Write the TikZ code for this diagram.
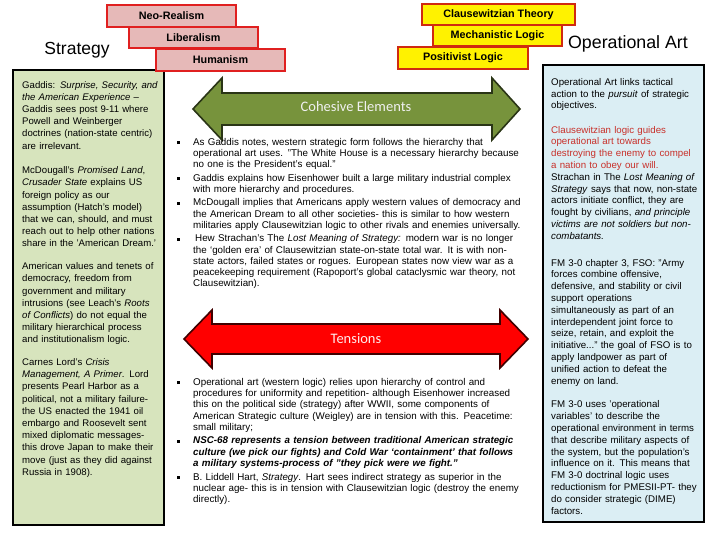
\documentclass[tikz,border=0pt]{standalone}
\usepackage{fontspec}
\setmainfont{Liberation Sans}
\newfontfamily\calib{Carlito}
\definecolor{leftfill}{HTML}{D7E4BD}
\definecolor{rightfill}{HTML}{DBEEF4}
\definecolor{pinkfill}{HTML}{E6B9B8}
\definecolor{boxred}{HTML}{E02020}
\definecolor{yelborder}{HTML}{D02A10}
\definecolor{arrowgreen}{HTML}{77933C}
\definecolor{arrowgreenline}{HTML}{2A3516}
\definecolor{arrowredline}{HTML}{400000}
\definecolor{redtxt}{HTML}{C8302A}
\newcommand{\bul}{\par\noindent\llap{\makebox[16pt][l]{\rule[1.3pt]{3pt}{3pt}}}\ignorespaces}
\tikzset{
  pinkbox/.style={draw=boxred,line width=1.4pt,fill=pinkfill},
  yelbox/.style={draw=yelborder,line width=1.4pt,fill=yellow},
  boxlabel/.style={font=\fontsize{10.8}{12}\selectfont\bfseries},
  bigbox/.style={draw=black,line width=1.5pt},
  txtblock/.style={anchor=north west,inner sep=0pt,text width=#1,align=left},
  arrowshape/.style={line width=1.6pt,line join=miter}
}
\begin{document}
\begin{tikzpicture}[x=1pt,y=-1pt]
\useasboundingbox (0,0) rectangle (720,540);
% big boxes
\path[bigbox,fill=leftfill] (13,70) rectangle (164,525);
\path[bigbox,fill=rightfill] (543,65) rectangle (704,522);
% pink boxes
\path[pinkbox] (107,5) rectangle (236,27);
\node[boxlabel] (neol) at (171.5,16) {Neo-Realism};
\path[pinkbox] (129,27) rectangle (258,48);
\node[boxlabel] (libl) at (193.5,37.5) {Liberalism};
\path[pinkbox] (156,49) rectangle (285,71);
\node[boxlabel] (huml) at (220.5,60) {Humanism};
% yellow boxes
\path[yelbox] (422,4) rectangle (575,25);
\node[boxlabel] (clal) at (498.5,14.5) {Clausewitzian Theory};
\path[yelbox] (433,25) rectangle (562,46);
\node[boxlabel] (mecl) at (497.5,35.5) {Mechanistic Logic};
\path[yelbox] (398,47) rectangle (528,69);
\node[boxlabel] (posl) at (463,58) {Positivist Logic};
% titles
\node[font=\fontsize{17.5}{20}\selectfont] (strat) at (77,50) {Strategy};
\node[font=\fontsize{17.8}{20}\selectfont] (opart) at (628,44) {Operational Art};
% green arrow
\draw[arrowshape,draw=arrowgreenline,fill=arrowgreen]
  (193,109) -- (222,78) -- (222,93) -- (492,93) -- (492,78) -- (520,109)
  -- (492,140) -- (492,125) -- (222,125) -- (222,140) -- cycle;
\node[font=\calib\fontsize{14.5}{16}\selectfont,text=white!94!black] (coh) at (356,107) {Cohesive Elements};
% red arrow
\draw[arrowshape,draw=arrowredline,fill=red]
  (184,339) -- (212,310) -- (212,324) -- (500,324) -- (500,310) -- (528,339)
  -- (500,368) -- (500,354) -- (212,354) -- (212,368) -- cycle;
\node[font=\calib\fontsize{14.5}{16}\selectfont,text=white!92!red] (ten) at (356,339) {Tensions};
% left text
\node[txtblock=150pt,font=\fontsize{9.6}{12.2}\selectfont] (lefttxt) at (22,81) {%
Gaddis: \textit{Surprise, Security, and}\\
\textit{the American Experience} –\\
Gaddis sees post 9-11 where\\
Powell and Weinberger\\
doctrines (nation-state centric)\\
are irrelevant.\par\vspace{12.4pt}
McDougall's \textit{Promised Land},\\
\textit{Crusader State} explains US\\
foreign policy as our\\
assumption (Hatch's model)\\
that we can, should, and must\\
reach out to help other nations\\
share in the 'American Dream.'\par\vspace{10.5pt}
American values and tenets of\\
democracy, freedom from\\
government and military\\
intrusions (see Leach's \textit{Roots}\\
\textit{of Conflicts}) do not equal the\\
military hierarchical process\\
and institutionalism logic.\par\vspace{10.5pt}
Carnes Lord's \textit{Crisis}\\
\textit{Management, A Primer}. Lord\\
presents Pearl Harbor as a\\
political, not a military failure-\\
the US enacted the 1941 oil\\
embargo and Roosevelt sent\\
mixed diplomatic messages-\\
this drove Japan to make their\\
move (just as they did against\\
Russia in 1908).};
% middle list 1
\node[txtblock=360pt,font=\fontsize{9.8}{11.2}\selectfont] (mid1) at (177,134) {%
\leftskip=16pt
\bul As Gaddis notes, western strategic form follows the hierarchy that\\
operational art uses. "The White House is a necessary hierarchy because\\
no one is the President's equal."\par\vspace{2.3pt}
\bul Gaddis explains how Eisenhower built a large military industrial complex\\
with more hierarchy and procedures.\par\vspace{2.3pt}
\bul McDougall implies that Americans apply western values of democracy and\\
the American Dream to all other societies- this is similar to how western\\
militaries apply Clausewitzian logic to other rivals and enemies universally.\par\vspace{2.3pt}
\bul \hspace{2pt}Hew Strachan's The \textit{Lost Meaning of Strategy:} modern war is no longer\\
the `golden era' of Clausewitzian state-on-state total war. It is with non-\\
state actors, failed states or rogues. European states now view war as a\\
peacekeeping requirement (Rapoport's global cataclysmic war theory, not\\
Clausewitzian).\par};
% middle list 2
\node[txtblock=360pt,font=\fontsize{9.8}{11.2}\selectfont] (mid2) at (177,374) {%
\leftskip=16pt
\bul Operational art (western logic) relies upon hierarchy of control and\\
procedures for uniformity and repetition- although Eisenhower increased\\
this on the political side (strategy) after WWII, some components of\\
American Strategic culture (Weigley) are in tension with this. Peacetime:\\
small military;\par\vspace{2.5pt}
\bul {\bfseries\itshape NSC-68 represents a tension between traditional American strategic\\
culture (we pick our fights) and Cold War `containment' that follows\\
a military systems-process of "they pick were we fight."}\par\vspace{2.5pt}
\bul B. Liddell Hart, \textit{Strategy}. Hart sees indirect strategy as superior in the\\
nuclear age- this is in tension with Clausewitzian logic (destroy the enemy\\
directly).\par};
% right text
\node[txtblock=160pt,font=\fontsize{9.7}{11.8}\selectfont] (righttxt) at (551,78) {%
Operational Art links tactical\\
action to the \textit{pursuit} of strategic\\
objectives.\par\vspace{12.5pt}
{\color{redtxt}Clausewitzian logic guides\\
operational art towards\\
destroying the enemy to compel\\
a nation to obey our will.}\\
Strachan in The \textit{Lost Meaning of}\\
\textit{Strategy} says that now, non-state\\
actors initiate conflict, they are\\
fought by civilians, \textit{and principle}\\
\textit{victims are not soldiers but non-}\\
\textit{combatants.}\par\vspace{15pt}
FM 3-0 chapter 3, FSO: "Army\\
forces combine offensive,\\
defensive, and stability or civil\\
support operations\\
simultaneously as part of an\\
interdependent joint force to\\
seize, retain, and exploit the\\
initiative..." the goal of FSO is to\\
apply landpower as part of\\
unified action to defeat the\\
enemy on land.\par\vspace{12pt}
FM 3-0 uses 'operational\\
variables' to describe the\\
operational environment in terms\\
that describe military aspects of\\
the system, but the population's\\
influence on it. This means that\\
FM 3-0 doctrinal logic uses\\
reductionism for PMESII-PT- they\\
do consider strategic (DIME)\\
factors.};
\end{tikzpicture}
\end{document}
